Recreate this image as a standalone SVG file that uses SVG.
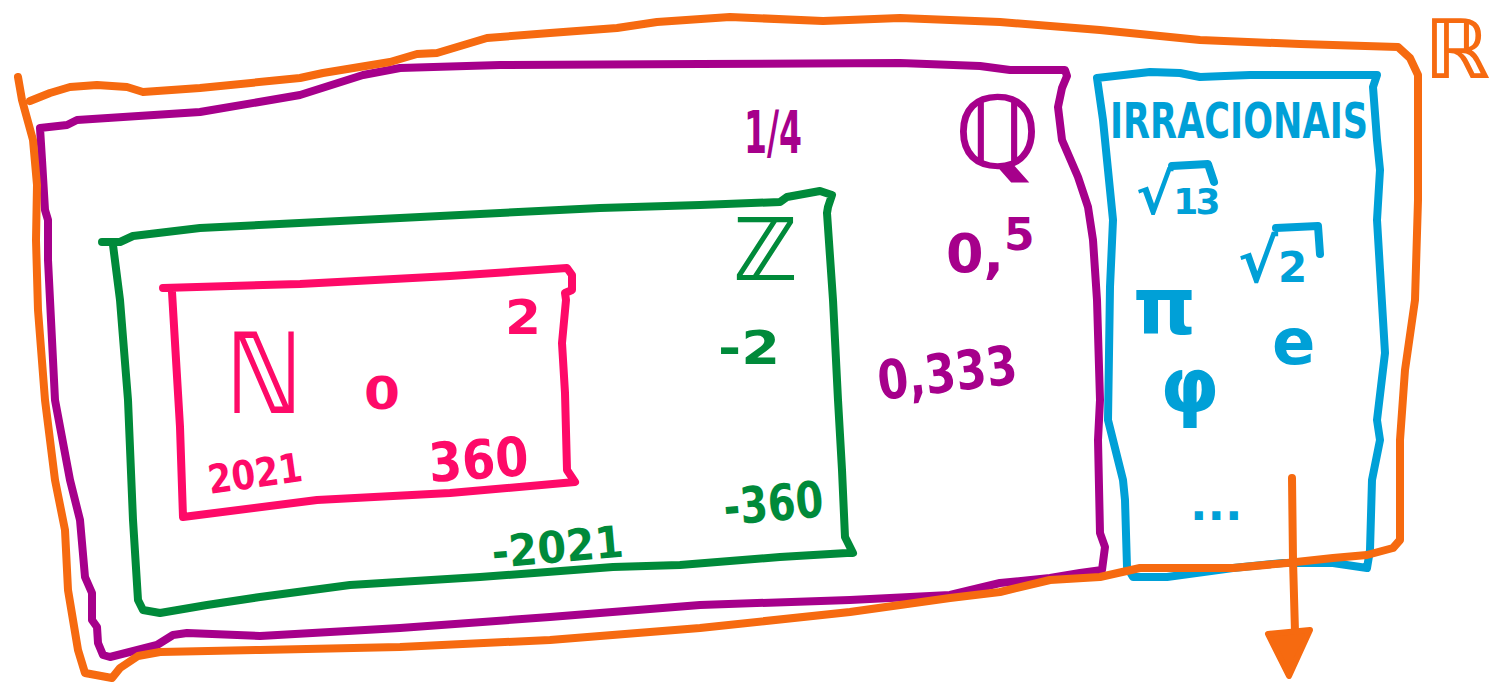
<svg xmlns="http://www.w3.org/2000/svg" width="1494" height="683" viewBox="0 0 1494 683">
<style>
.ol{fill:none;stroke-width:8;stroke-linecap:round;stroke-linejoin:round}
.t{font-family:"DejaVu Sans",sans-serif;font-weight:bold}
.or{stroke:#F66A10}.pu{stroke:#A6008B}.gr{stroke:#008A3A}.pk{stroke:#FE0A68}.bl{stroke:#00A0D7}
.for{fill:#F66A10}.fpu{fill:#A6008B}.fgr{fill:#008A3A}.fpk{fill:#FE0A68}.fbl{fill:#00A0D7}
</style>
<rect width="1494" height="683" fill="#ffffff"/>
<g id="set-Q">
<path class="ol pu" d="M40,128 L67,125 L77,120 L200,112 L300,95 L363,75 L400,68 L500,65 L700,64 L900,63 L980,66 L1010,70 L1065,70 L1067,76 L1062,88 L1058,107 L1062,140 L1078,177 L1088,207 L1093,240 L1097,300 L1100,400 L1098,440 L1100,533 L1105,547 L1102,570 L1080,573 L1050,578 L1000,583 L950,595 L850,600 L700,605 L550,617 L400,628 L260,636 L187,633 L173,635 L157,645 L110,657 L103,655 L98,643 L97,627 L92,620 L92,593 L85,577 L80,520 L70,480 L55,400 L48,260 L48,220 L45,210 L42,160 Z"/>
<text class="t fpu" x="955" y="168" font-size="100" font-weight="normal">ℚ</text>
<text class="t fpu" x="744" y="153" font-size="58" textLength="58" lengthAdjust="spacingAndGlyphs">1/4</text>
<text class="t fpu" x="946" y="272" font-size="54">0,<tspan font-size="44" dy="-22">5</tspan></text>
<text class="t fpu" x="880" y="400" font-size="54" textLength="140" lengthAdjust="spacingAndGlyphs" transform="rotate(-7 880 400)">0,333</text>
</g>
<g id="set-Z">
<path class="ol gr" d="M102,242 L120,242 L133,236 L200,228 L400,218 L600,208 L700,205 L780,202 L787,197 L820,191 L832,195 L828,207 L827,213 L833,300 L838,400 L842,470 L845,537 L853,553 L847,553 L780,557 L680,565 L613,567 L480,577 L350,585 L260,597 L207,605 L160,613 L143,610 L138,600 L133,520 L128,400 L120,300 L113,245"/>
<text class="t fgr" x="733" y="280" font-size="86" font-weight="normal">ℤ</text>
<text class="t fgr" x="718" y="364" font-size="46" textLength="62" lengthAdjust="spacingAndGlyphs">-2</text>
<text class="t fgr" x="725" y="525" font-size="50" textLength="100" lengthAdjust="spacingAndGlyphs" transform="rotate(-5 725 525)">-360</text>
<text class="t fgr" x="493" y="568" font-size="44" textLength="132" lengthAdjust="spacingAndGlyphs" transform="rotate(-5 493 568)">-2021</text>
</g>
<g id="set-N">
<path class="ol pk" d="M163,288 L300,284 L450,276 L567,268 L572,275 L572,290 L565,293 L566,300 L562,343 L565,393 L567,470 L575,482 L450,493 L317,500 L183,517 L180,427 L172,292"/>
<text class="t fpk" x="226" y="413" font-size="112" font-weight="normal" textLength="76" lengthAdjust="spacingAndGlyphs">ℕ</text>
<text class="t fpk" x="364" y="409" font-size="44" textLength="36" lengthAdjust="spacingAndGlyphs">0</text>
<text class="t fpk" x="505" y="334" font-size="48" textLength="36" lengthAdjust="spacingAndGlyphs">2</text>
<text class="t fpk" x="210" y="494" font-size="40" textLength="95" lengthAdjust="spacingAndGlyphs" transform="rotate(-8 210 494)">2021</text>
<text class="t fpk" x="430" y="482" font-size="54" textLength="100" lengthAdjust="spacingAndGlyphs" transform="rotate(-4 430 482)">360</text>
</g>
<g id="set-Irracionais">
<path class="ol bl" d="M1097,78 L1150,72 L1180,73 L1200,77 L1250,75 L1300,75 L1377,75 L1373,87 L1377,140 L1380,170 L1377,220 L1380,270 L1385,353 L1377,420 L1380,440 L1372,480 L1370,550 L1367,568 L1333,563 L1283,563 L1233,568 L1167,577 L1133,577 L1127,567 L1125,500 L1123,480 L1108,420 L1110,287 L1113,220 L1108,170 L1103,120 Z"/>
<text class="t fbl" x="1110" y="138" font-size="50" textLength="258" lengthAdjust="spacingAndGlyphs">IRRACIONAIS</text>
<text class="t fbl" x="1136" y="214" font-size="56">√<tspan font-size="36" letter-spacing="-3">13</tspan></text>
<path class="ol bl" d="M1172,166 L1208,164 L1214,182"/>
<text class="t fbl" x="1238" y="282" font-size="60">√<tspan font-size="42">2</tspan></text>
<path class="ol bl" d="M1276,228 L1318,226 L1320,254"/>
<text class="t fbl" x="1133" y="334" font-size="80" font-weight="normal">π</text>
<text class="t fbl" x="1272" y="364" font-size="64" font-weight="normal">e</text>
<text class="t fbl" x="1160" y="412" font-size="76" font-weight="normal">φ</text>
<text class="t fbl" x="1190" y="520" font-size="46">...</text>
</g>
<g id="set-R">
<path class="ol or" d="M18,77 L22,100 L33,140 L37,185 L36,240 L38,310 L45,400 L55,480 L65,530 L68,590 L78,650 L85,673 L112,678 L120,668 L138,656 L160,652 L260,650 L400,647 L550,640 L700,628 L850,612 L950,598 L1000,592 L1050,580 L1100,577 L1140,568 L1233,568 L1287,563 L1333,558 L1367,555 L1393,548 L1400,540 L1400,440 L1405,370 L1415,300 L1418,200 L1418,120 L1418,75 L1410,58 L1398,47 L1300,44 L1200,40 L1100,30 L1000,22 L900,18 L823,21 L730,17 L657,22 L617,28 L550,33 L487,38 L437,53 L417,54 L390,62 L323,73 L300,78 L200,88 L143,92 L127,87 L97,85 L70,87 L50,93 L30,101"/>
<text class="t for" x="1424" y="78" font-size="82" font-weight="normal">ℝ</text>
</g>
<g id="connectors">
<path class="ol or" d="M1292,478 L1293,560 L1295,632"/>
<path class="or for" stroke-width="6" stroke-linejoin="round" d="M1268,634 L1310,630 L1289,676 Z"/>
</g>
</svg>
